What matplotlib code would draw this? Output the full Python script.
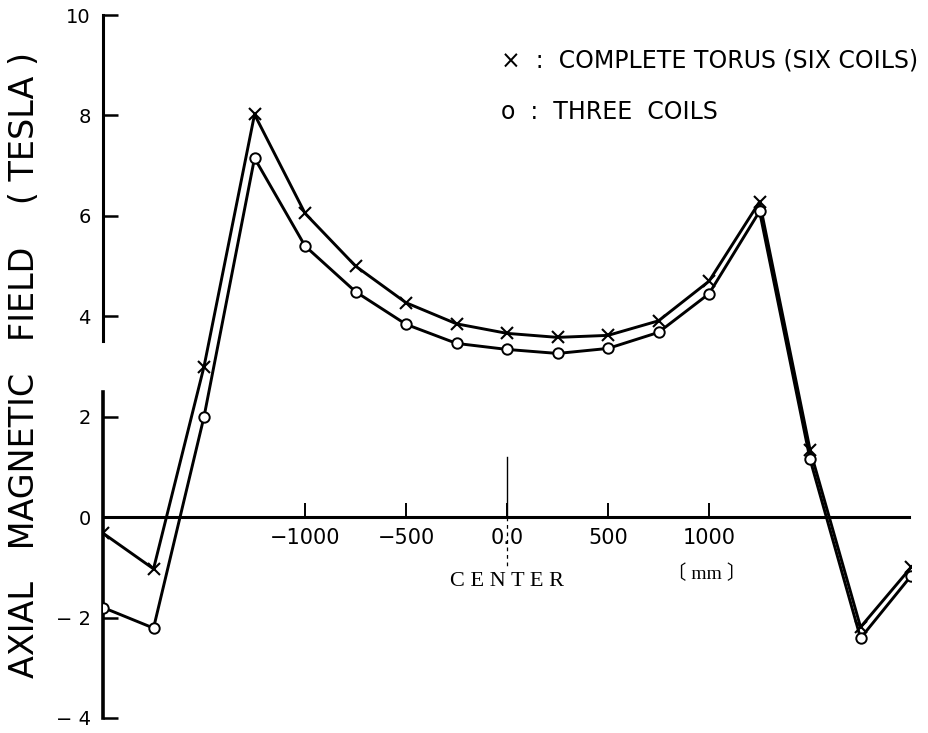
import matplotlib
matplotlib.use("Agg")
import matplotlib.pyplot as plt

# axial positions along the torus (mm) and measured fields (tesla)
position_mm = [-2000, -1750, -1500, -1250, -1000, -750, -500, -250, 0,
               250, 500, 750, 1000, 1250, 1500, 1750, 2000]
six_coils = [-0.32, -1.03, 3.00, 8.02, 6.05, 5.00, 4.27, 3.85, 3.66,
             3.58, 3.62, 3.91, 4.70, 6.28, 1.34, -2.19, -1.00]
three_coils = [-1.80, -2.21, 2.00, 7.15, 5.40, 4.49, 3.84, 3.46, 3.34,
               3.26, 3.36, 3.68, 4.45, 6.09, 1.15, -2.41, -1.17]

y_ticks = [-4, -2, 0, 2, 4, 6, 8, 10]
y_tick_labels = ["− 4", "− 2", "0", "2", "4", "6", "8", "10"]
x_ticks = [-1000, -500, 0, 500, 1000]
x_tick_labels = ["−1000", "−500", "0.0", "500", "1000"]

fig = plt.figure(figsize=(9.29, 7.33), dpi=100)
ax = fig.add_axes([0.1109, 0.0205, 0.8698, 0.959])
ax.set_xlim(-2000, 2000)
ax.set_ylim(-4, 10)

# field curves
ax.plot(position_mm, six_coils, color="black", lw=2.1, marker="x",
        ms=9, mew=1.5, zorder=3)
ax.plot(position_mm, three_coils, color="black", lw=2.1, marker="o",
        ms=7.5, mew=1.4, mfc="white", zorder=3)

# broken left axis
for s in ["top", "right"]:
    ax.spines[s].set_visible(False)
ax.spines["left"].set_bounds(3.5, 10)
ax.spines["left"].set_linewidth(2.2)
ax.axvline(-2000, ymin=0, ymax=6.5 / 14, color="black", lw=2.6, clip_on=False)

# x axis sits on the zero line
ax.spines["bottom"].set_position(("data", 0))
ax.spines["bottom"].set_bounds(-2000, 1990)
ax.spines["bottom"].set_linewidth(2.2)

ax.set_yticks(y_ticks)
ax.set_yticklabels(y_tick_labels)
ax.set_xticks(x_ticks)
ax.set_xticklabels(x_tick_labels)
ax.tick_params(axis="y", direction="in", length=11, width=1.8, pad=9,
               labelsize=14)
ax.tick_params(axis="x", direction="in", length=10, width=1.4, pad=8,
               labelsize=15)

# center marker through the zero tick
ax.plot([0, 0], [0, 1.2], color="black", lw=1.0)
ax.plot([0, 0], [0, -0.98], color="black", lw=0.9, ls=(0, (3, 3)))

ax.text(0, -1.28, "C E N T E R", ha="center", va="center", fontsize=16,
        family="Liberation Serif")
ax.text(990, -1.13, "〔 mm 〕", ha="center", va="center", fontsize=14,
        family=["Liberation Serif", "Noto Sans CJK JP"])

# legend written out as text
ax.text(-30, 9.1, "×  :  COMPLETE TORUS (SIX COILS)", ha="left",
        va="center", fontsize=17)
ax.text(-30, 8.06, "o  :  THREE  COILS", ha="left", va="center",
        fontsize=17)

fig.text(25 / 929, 1 - 365 / 733, "AXIAL   MAGNETIC   FIELD    ( TESLA )",
         rotation=90, ha="center", va="center", fontsize=24)

fig.savefig("out.png", dpi=100)
